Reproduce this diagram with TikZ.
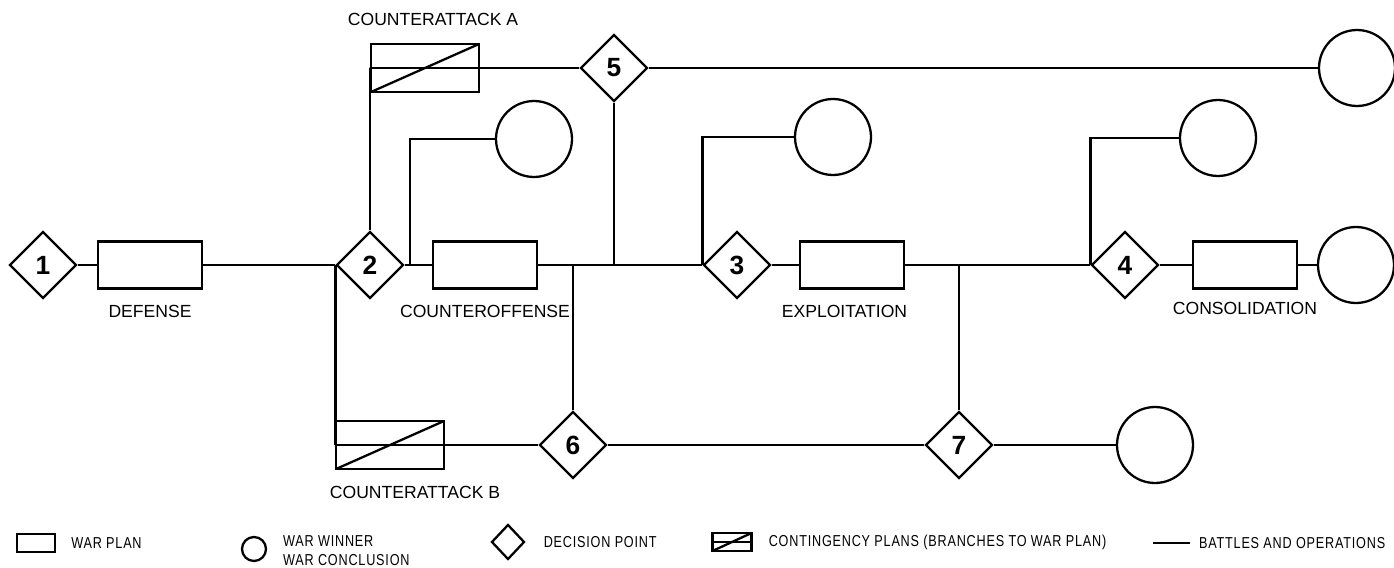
\documentclass[tikz,border=0pt]{standalone}
\usepackage{fontspec}
\setmainfont{Liberation Sans}
\newfontfamily\legfont[LetterSpace=5,FakeStretch=0.8]{Liberation Sans}
\usetikzlibrary{positioning,shapes.geometric}

\begin{document}
\begin{tikzpicture}[x=0.02cm,y=-0.02cm,line width=1.3pt,
 plan/.style={draw,minimum width=2.08cm,minimum height=0.94cm,inner sep=0},
 cplan/.style={plan,minimum width=2.16cm,minimum height=0.96cm,path picture={
   \draw[line width=1.3pt] (path picture bounding box.west)--(path picture bounding box.east);
   \draw[line width=1.3pt] (path picture bounding box.south west)--(path picture bounding box.north east);}},
 dec/.style={draw,diamond,aspect=1,minimum size=1.34cm,inner sep=0,font=\fontsize{15}{15}\selectfont\bfseries},
 win/.style={draw,circle,minimum size=1.52cm,inner sep=0},
 lab/.style={font=\fontsize{10}{12}\selectfont,inner sep=0},
 leg/.style={font=\legfont\fontsize{9}{10}\selectfont,inner sep=0,anchor=west}]
\useasboundingbox (0,0) rectangle (1394,568);
% main line
\node[dec] (d1) at (43,265) {1};
\node[plan] (defense) at (150,265) {};
\node[dec] (d2) at (370,265) {2};
\node[plan] (coff) at (485,265) {};
\node[dec] (d3) at (737,265) {3};
\node[plan] (expl) at (852,265) {};
\node[dec] (d4) at (1125,265) {4};
\node[plan] (cons) at (1245,265) {};
\node[win] (w6) at (1356,265) {};
% upper branch
\node[cplan] (ca) at (425,68) {};
\node[dec] (d5) at (614,68) {5};
\node[win] (w5) at (1357,68) {};
\node[win] (w1) at (534,139) {};
\node[win] (w2) at (833,137) {};
\node[win] (w3) at (1218,138) {};
% lower branch
\node[cplan] (cb) at (390,445) {};
\node[dec] (d6) at (573,445) {6};
\node[dec] (d7) at (959,445) {7};
\node[win] (w4) at (1155,445) {};
\coordinate (j1) at (410,265);
% labels
\node[lab,below=0.28cm of defense] {DEFENSE};
\node[lab,below=0.28cm of coff] {COUNTEROFFENSE};
\node[lab,below=0.28cm of expl,xshift=-0.15cm] {EXPLOITATION};
\node[lab,below=0.22cm of cons] {CONSOLIDATION};
\node[lab,above=0.32cm of ca,xshift=0.16cm] {COUNTERATTACK A};
\node[lab,below=0.3cm of cb,xshift=0.5cm] {COUNTERATTACK B};
% connectors
\foreach \a/\b in {d1/defense,defense/d2,d2/coff,coff/d3,d3/expl,expl/d4,d4/cons,cons/w6,ca/d5,d5/w5,cb/d6,d6/d7,d7/w4}
  \draw (\a.east) -- (\b.west);
\draw (d2.north) |- (ca.west);
\draw (j1) |- (w1.west);
\draw (d3.west) |- (w2.west);
\draw (d4.west) |- (w3.west);
\draw (d2.west) |- (cb.west);
\draw (d5.south) -- (d5.south |- coff.east);
\draw (d6.north) -- (d6.north |- coff.east);
\draw (d7.north) -- (d7.north |- expl.east);
% legend
\node[plan,minimum width=0.76cm,minimum height=0.36cm] (lplan) at (36,543) {};
\node[leg,right=0.28cm of lplan] {WAR PLAN};
\node[win,minimum size=0.48cm] (lwin) at (254,549) {};
\node[leg] at (282,541) {WAR WINNER};
\node[leg] at (282,560) {WAR CONCLUSION};
\node[dec,minimum size=0,minimum width=0.66cm,minimum height=0.7cm] (ldec) at (508,542) {};
\node[leg,right=0.34cm of ldec] {DECISION POINT};
\node[cplan,minimum width=0.78cm,minimum height=0.36cm] (lcp) at (732,542) {};
\node[leg,right=0.3cm of lcp] {CONTINGENCY PLANS (BRANCHES TO WAR PLAN)};
\coordinate (la) at (1153,543);
\coordinate (lb) at (1190,543);
\draw (la) -- (lb);
\node[leg,right=0.16cm of lb] {BATTLES AND OPERATIONS};
\end{tikzpicture}
\end{document}
